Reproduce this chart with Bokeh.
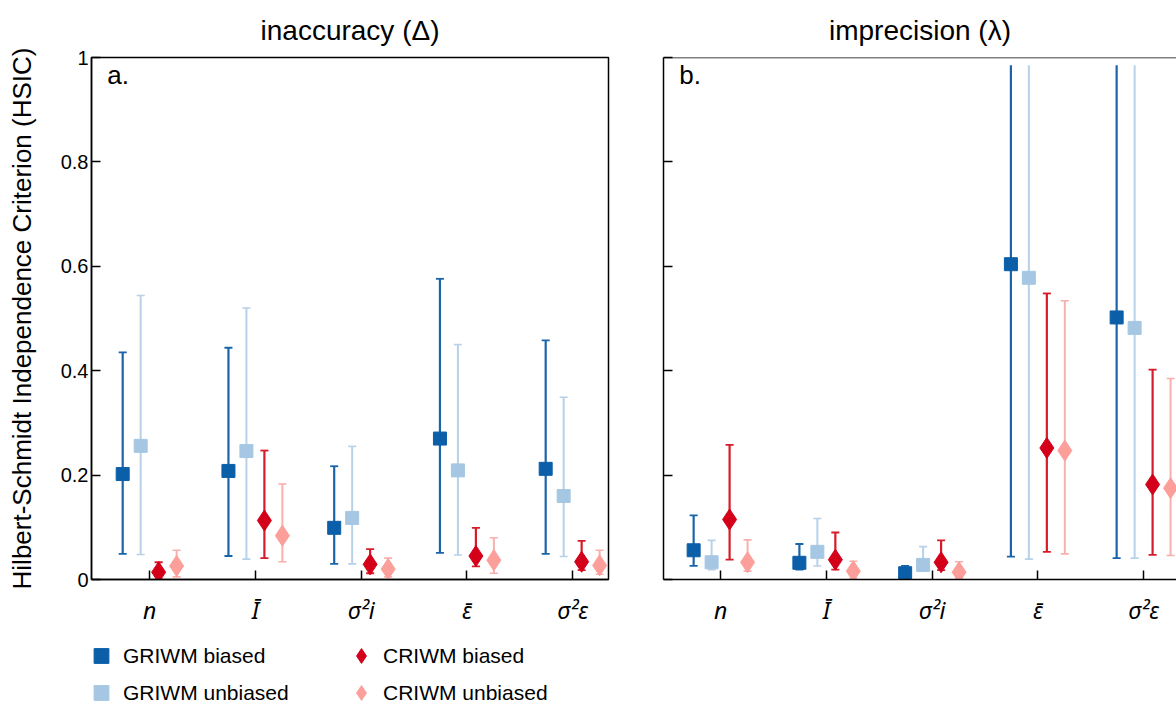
import numpy as np
from bokeh.plotting import figure
from bokeh.models import (Range1d, FixedTicker, ColumnDataSource, Legend,
                          LegendItem, Span, Label)
from bokeh.layouts import row, column
from bokeh.embed import file_html
from bokeh.resources import INLINE

# ---------------- data ----------------
categories = ["n", "Ī", "σ²i", "ε\u0304", "σ²ε"]
y_ticks = [0, 0.2, 0.4, 0.6, 0.8, 1]
y_tick_labels = ["0", "0.2", "0.4", "0.6", "0.8", "1"]
series_names = ["GRIWM biased", "GRIWM unbiased", "CRIWM biased", "CRIWM unbiased"]

# panel a: inaccuracy
a_gb = [0.202, 0.208, 0.099, 0.270, 0.212]
a_gb_lo = [0.049, 0.045, 0.030, 0.051, 0.049]
a_gb_hi = [0.435, 0.444, 0.217, 0.576, 0.458]
a_gu = [0.256, 0.246, 0.118, 0.209, 0.160]
a_gu_lo = [0.048, 0.039, 0.030, 0.047, 0.044]
a_gu_hi = [0.544, 0.520, 0.255, 0.450, 0.349]
a_cb = [0.014, 0.113, 0.029, 0.045, 0.034]
a_cb_lo = [0.000, 0.041, 0.012, 0.025, 0.018]
a_cb_hi = [0.033, 0.247, 0.058, 0.099, 0.074]
a_cu = [0.026, 0.084, 0.020, 0.037, 0.027]
a_cu_lo = [0.005, 0.034, 0.005, 0.012, 0.010]
a_cu_hi = [0.056, 0.183, 0.041, 0.080, 0.056]

# panel b: imprecision
b_gb = [0.056, 0.032, 0.012, 0.604, 0.502]
b_gb_lo = [0.026, 0.019, 0.000, 0.044, 0.041]
b_gb_hi = [0.123, 0.068, 0.026, 0.985, 0.985]
b_gu = [0.033, 0.053, 0.028, 0.578, 0.482]
b_gu_lo = [0.019, 0.026, 0.016, 0.039, 0.041]
b_gu_hi = [0.075, 0.117, 0.063, 0.985, 0.985]
b_cb = [0.115, 0.038, 0.033, 0.252, 0.182]
b_cb_lo = [0.038, 0.019, 0.018, 0.053, 0.047]
b_cb_hi = [0.258, 0.090, 0.075, 0.548, 0.402]
b_cu = [0.033, 0.016, 0.014, 0.247, 0.175]
b_cu_lo = [0.016, 0.002, 0.002, 0.049, 0.046]
b_cu_hi = [0.076, 0.035, 0.034, 0.534, 0.385]

panel_a = {
    "GRIWM biased": (a_gb, a_gb_lo, a_gb_hi),
    "GRIWM unbiased": (a_gu, a_gu_lo, a_gu_hi),
    "CRIWM biased": (a_cb, a_cb_lo, a_cb_hi),
    "CRIWM unbiased": (a_cu, a_cu_lo, a_cu_hi),
}
panel_b = {
    "GRIWM biased": (b_gb, b_gb_lo, b_gb_hi),
    "GRIWM unbiased": (b_gu, b_gu_lo, b_gu_hi),
    "CRIWM biased": (b_cb, b_cb_lo, b_cb_hi),
    "CRIWM unbiased": (b_cu, b_cu_lo, b_cu_hi),
}

# ---------------- styles ----------------
FONT = "Liberation Sans"
TICK_FONT = "Noto Sans"
STYLE = {
    "GRIWM biased": dict(marker="square", color="#0b5ea8", stem="#1a65aa", size=13, offset=-0.255, lw=2.2),
    "GRIWM unbiased": dict(marker="square", color="#a5c7e3", stem="#b7d1e8", size=13, offset=-0.085, lw=2.0),
    "CRIWM biased": dict(marker="diamond", color="#d4001a", stem="#d61c2a", size=21, offset=0.085, lw=2.2),
    "CRIWM unbiased": dict(marker="diamond", color="#fc9f9a", stem="#f8b0ac", size=21, offset=0.255, lw=2.0),
}
CAP = 0.038
TOP, FRAME_H, BOTTOM = 57, 523, 48
H = TOP + FRAME_H + BOTTOM
LEG_H = 80


def make_panel(title, data, width, border_left, border_right, x_start, x_end,
               letter, first):
    p = figure(width=width, height=H, x_range=Range1d(x_start, x_end),
               y_range=Range1d(0, 1), output_backend="svg",
               toolbar_location=None, min_border_left=border_left,
               min_border_right=border_right, min_border_top=TOP,
               min_border_bottom=BOTTOM)
    p.grid.visible = False
    p.background_fill_color = "white"
    p.border_fill_color = "white"

    p.title.text = title
    p.title.align = "center"
    p.title.vertical_align = "middle"
    p.title.text_font = FONT
    p.title.text_font_size = "28px"
    p.title.text_font_style = "normal"
    p.title.text_color = "black"
    p.title.standoff = 22

    if first:
        p.outline_line_color = "black"
        p.outline_line_width = 1.5
    else:
        p.outline_line_color = None
        p.add_layout(Span(location=1, dimension="width", line_color="black",
                          line_width=1.5))

    # axes
    p.xaxis.ticker = FixedTicker(ticks=list(range(len(categories))))
    p.xaxis.major_label_overrides = {i: c for i, c in enumerate(categories)}
    p.xaxis.major_label_text_font = TICK_FONT
    p.xaxis.major_label_text_font_style = "italic"
    p.xaxis.major_label_text_font_size = "23px"
    p.xaxis.major_label_text_color = "black"
    p.xaxis.major_label_standoff = 14

    p.yaxis.ticker = FixedTicker(ticks=y_ticks)
    p.yaxis.major_label_overrides = {t: l for t, l in zip(y_ticks, y_tick_labels)}
    p.yaxis.major_label_text_font = FONT
    p.yaxis.major_label_text_color = "black"
    if first:
        p.yaxis.major_label_text_font_size = "20px"
        p.yaxis.major_label_standoff = 3
        p.yaxis.axis_label = "Hilbert-Schmidt Independence Criterion (HSIC)"
        p.yaxis.axis_label_text_font = FONT
        p.yaxis.axis_label_text_font_size = "26px"
        p.yaxis.axis_label_text_font_style = "normal"
        p.yaxis.axis_label_text_color = "black"
        p.yaxis.axis_label_standoff = 21
    else:
        p.yaxis.major_label_text_font_size = "0px"
        p.yaxis.major_label_standoff = 0

    for ax in (p.xaxis, p.yaxis):
        ax.major_tick_in = 9
        ax.major_tick_out = 0
        ax.minor_tick_line_color = None
        ax.axis_line_width = 1.5
        ax.axis_line_color = "black"
        ax.major_tick_line_width = 1.5
        ax.major_tick_line_color = "black"

    n = len(categories)
    # error bars
    for name in series_names:
        mid, lo, hi = data[name]
        st = STYLE[name]
        xs = [i + st["offset"] for i in range(n)]
        src = ColumnDataSource(dict(x=xs, lo=lo, hi=hi))
        p.segment(x0="x", y0="lo", x1="x", y1="hi", source=src,
                  line_color=st["stem"], line_width=st["lw"])
        caps_lo = ColumnDataSource(dict(x0=[x - CAP for x in xs],
                                        x1=[x + CAP for x in xs], y=lo))
        p.segment(x0="x0", y0="y", x1="x1", y1="y", source=caps_lo,
                  line_color=st["stem"], line_width=st["lw"] - 0.4)
        keep = [k for k in range(n) if hi[k] < 0.98]
        caps_hi = ColumnDataSource(dict(x0=[xs[k] - CAP for k in keep],
                                        x1=[xs[k] + CAP for k in keep],
                                        y=[hi[k] for k in keep]))
        p.segment(x0="x0", y0="y", x1="x1", y1="y", source=caps_hi,
                  line_color=st["stem"], line_width=st["lw"] - 0.4)

    for name in series_names:
        mid, lo, hi = data[name]
        st = STYLE[name]
        xs = [i + st["offset"] for i in range(n)]
        src = ColumnDataSource(dict(x=xs, y=mid))
        p.scatter(x="x", y="y", source=src, marker=st["marker"],
                  size=st["size"], fill_color=st["color"],
                  line_color=st["color"], line_width=1)

    p.add_layout(Label(x=x_start + 0.15, y=0.966, text=letter,
                       text_baseline="middle", text_align="left",
                       text_font=FONT, text_font_size="26px",
                       text_color="black"))
    return p


pa = make_panel("inaccuracy (Δ)", panel_a, 630, 91, 22, -0.55, 4.339, "a.", True)
pb = make_panel("imprecision (λ)", panel_b, 546, 33, 0, -0.54, 4.311, "b.", False)

# ---------------- legend strip ----------------
pl = figure(width=1176, height=LEG_H, x_range=Range1d(0, 1), y_range=Range1d(0, 1),
            output_backend="svg", toolbar_location=None,
            x_axis_location=None, y_axis_location=None,
            min_border=0, min_border_left=0, min_border_right=0,
            min_border_top=0, min_border_bottom=0)
pl.grid.visible = False
pl.outline_line_color = None
items = []
for name in series_names:
    st = STYLE[name]
    key_src = ColumnDataSource(dict(x=np.array([np.nan]), y=np.array([np.nan])))
    r = pl.scatter(x="x", y="y", source=key_src, marker=st["marker"],
                   fill_color=st["color"], line_color=st["color"], line_width=1)
    items.append(LegendItem(label=name, renderers=[r], index=0))

legend = Legend(items=items, location=(82, -3), nrows=2, orientation="vertical",
                glyph_width=38, glyph_height=37, label_standoff=3,
                label_width=219, spacing=0, padding=0, margin=0,
                border_line_color=None, background_fill_alpha=0,
                label_text_font=FONT, label_text_font_size="21px",
                label_text_color="black")
pl.add_layout(legend)

layout = column(row(pa, pb), pl)
open("out.html", "w").write(file_html(layout, INLINE))
